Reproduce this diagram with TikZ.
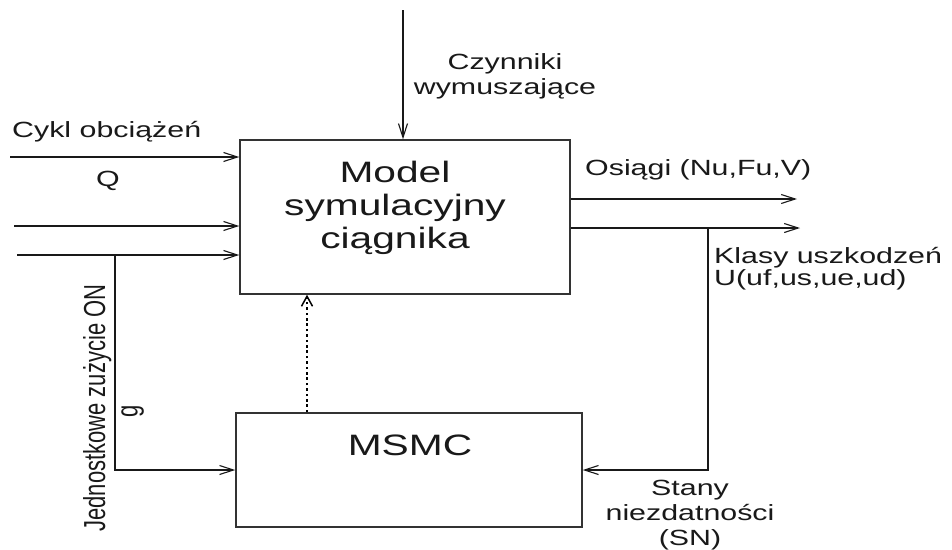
\documentclass[tikz,border=0pt]{standalone}
\usepackage{fontspec}
\usepackage{graphicx}
\setmainfont[FakeStretch=1.38]{Liberation Sans}
\newfontfamily\plainsans{Liberation Sans}
\usetikzlibrary{arrows.meta}

\tikzset{
  wire/.style={line width=1.3pt, draw=black!90},
  arr/.style={wire, -{Straight Barb[length=14pt,width=9pt,line width=1.1pt]}},
  dotarr/.style={line width=2.6pt, draw=black, dash pattern=on 2.6pt off 2.8pt,
                 -{Straight Barb[length=10pt,width=11pt,line width=1.5pt]}},
  block/.style={draw=black!80, line width=1.4pt, rectangle, inner sep=0pt},
  lbl/.style={font=\fontsize{22}{25}\selectfont, inner sep=0pt, text=black!90},
  biglbl/.style={font=\fontsize{29.5}{33}\selectfont, inner sep=0pt, align=center, text=black!90},
  sidelbl/.style={font=\plainsans\fontsize{22}{25}\selectfont, inner sep=0pt, rotate=90,
                  anchor=base, text=black!90},
}

\begin{document}
\begin{tikzpicture}[x=1pt,y=-1pt]
\useasboundingbox[fill=white] (0,0) rectangle (952,549);

% the two blocks
\node[block, minimum width=330pt, minimum height=154pt] (model) at (405,217) {};
\node[block, minimum width=346pt, minimum height=114pt] (msmc) at (409,470) {};
\node[biglbl] (modeltxt) at (395,208) {Model\\symulacyjny\\ciągnika};
\node[biglbl, anchor=base] (msmctxt) at (410,455) {MSMC};

% free ends of the connectors
\coordinate (force) at (403,10);
\coordinate (in1) at (10,157);
\coordinate (in2) at (14,226);
\coordinate (in3) at (17,255);
\coordinate (tapL) at (115,255);
\coordinate (out1) at (797,199);
\coordinate (out2) at (800,228);
\coordinate (tapR) at (708,228);
\coordinate (fb) at (307,413);

% inputs of the simulation model
\draw[arr] (force) -- (force |- model.north);
\draw[arr] (in1) -- (in1 -| model.west);
\draw[arr] (in2) -- (in2 -| model.west);
\draw[arr] (in3) -- (in3 -| model.west);

% outputs
\draw[arr] (out1 -| model.east) -- (out1);
\draw[arr] (out2 -| model.east) -- (out2);

% branches into MSMC
\draw[arr] (tapL) |- (msmc.west);
\draw[arr] (tapR) |- (msmc.east);

% feedback from MSMC to the model
\draw[dotarr] (msmc.north -| fb) -- (model.south -| fb);

% labels
\node[lbl, align=center] (czyn) at (505,76.3) {Czynniki\\wymuszające};
\node[lbl, anchor=base west] (cykl) at (12,137) {Cykl obciążeń};
\node[lbl, anchor=base] (q) at (108,186) {Q};
\node[lbl, anchor=base west] (osiagi) at (585,175) {Osiągi (Nu,Fu,V)};
\node[lbl, align=left, anchor=west, font=\fontsize{22}{22}\selectfont] (klasy) at (714,268.3) {Klasy uszkodzeń\\U(uf,us,ue,ud)};
\node[lbl, align=center] (stany) at (690,515) {Stany\\niezdatności\\(SN)};
\node[sidelbl] (jedn) at (105,408) {\scalebox{1}[1.38]{Jednostkowe zużycie ON}};
\node[sidelbl] (g) at (137.5,411) {\scalebox{1}[1.38]{g}};
\end{tikzpicture}
\end{document}
